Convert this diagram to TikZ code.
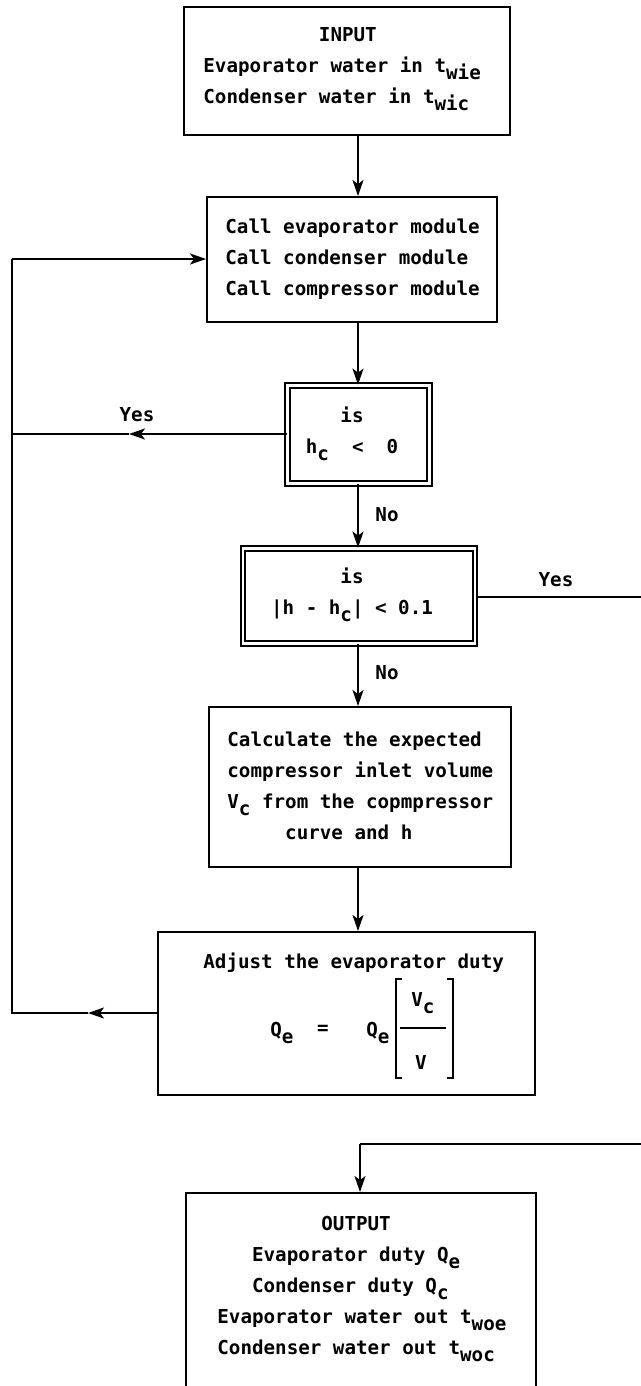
\documentclass[tikz,border=0pt]{standalone}
\usepackage{fontspec}
\setmonofont{DejaVu Sans Mono}
\usetikzlibrary{arrows.meta}
\newcommand\dn[1]{\raisebox{-3.5pt}{#1}}
\begin{document}
\begin{tikzpicture}[x=0.5pt,y=-0.5pt,
  every node/.style={font=\ttfamily\bfseries\fontsize{9.6}{15.5}\selectfont, inner sep=0pt},
  box/.style={draw, line width=1pt},
  dbox/.style={draw, line width=0.9pt, double, double distance=1.3pt},
  txt/.style={align=left, anchor=west},
  ctxt/.style={align=center},
  conn/.style={line width=1pt},
  arr/.style={conn, -{Stealth[length=8pt,width=5.5pt,inset=2pt]}},
  lbl/.style={}
]
\useasboundingbox (0,0) rectangle (641,1386);
\clip (0,0) rectangle (641,1386);
\fill[white] (0,0) rectangle (641,1386);

% boxes
\node[box, minimum width=163pt, minimum height=64pt] (input) at (347,71) {};
\node[txt] (inputt) at (203,69) {\phantom{xxxxxxxxxx}INPUT\\Evaporator water in t\dn{wie}\\Condenser water in t\dn{wic}};

\node[box, minimum width=145pt, minimum height=62.5pt] (call) at (352,259.5) {};
\node[txt] (callt) at (225,259) {Call evaporator module\\Call condenser module\\Call compressor module};

\node[dbox, minimum width=71pt, minimum height=49pt] (isneg) at (358.5,434.5) {};
\node[ctxt] (isnegt) at (352,434) {is\\h\dn{c}\ \ <\ \ 0};

\node[dbox, minimum width=116pt, minimum height=47.5pt] (conv) at (359,596) {};
\node[ctxt] (convt) at (352,595) {is\\|h - h\dn{c}| < 0.1};

\node[box, minimum width=151pt, minimum height=80pt] (calc) at (360,787) {};
\node[txt] (calct) at (227,786) {Calculate the expected\\compressor inlet volume\\V\dn{c} from the copmpressor\\\phantom{xxxxx}curve and h};

\node[box, minimum width=188.5pt, minimum height=81.5pt] (adjust) at (346.5,1013.5) {};
\node[txt] (adjustt) at (203,963) {Adjust the evaporator duty};
\node[anchor=west] (qe1) at (270,1033) {Q\dn{e}};
\node (eq) at (323,1030) {=};
\node[anchor=west] (qe2) at (366,1033) {Q\dn{e}};
\node[anchor=west] (vc) at (411,1003) {V\dn{c}};
\node (vv) at (421,1062) {V};
\draw[conn] (402,979) -- (396,979) -- (396,1078) -- (402,1078);
\draw[conn] (447,979) -- (453,979) -- (453,1078) -- (447,1078);
\draw[conn] (400,1028) -- (446,1028);

\node[box, minimum width=175pt, minimum height=105pt] (output) at (361,1298) {};
\node[txt] (outputt) at (217,1289) {\fontsize{9.6}{16}\selectfont\phantom{xxxxxxxxx}OUTPUT\\\phantom{xxx}Evaporator duty Q\dn{e}\\\phantom{xxx}Condenser duty Q\dn{c}\\Evaporator water out t\dn{woe}\\Condenser water out t\dn{woc}};

% connector coordinates
\coordinate (sx) at (358,0);
\coordinate (L1) at (12,259);
\coordinate (L2) at (12,434);
\coordinate (L3) at (12,1013);
\coordinate (m1) at (129,434);
\coordinate (m2) at (88,1013);
\coordinate (R1) at (648,597);
\coordinate (R2) at (648,1144);
\coordinate (R3) at (360,1144);

% spine
\draw[arr] (input.south -| sx) -- (call.north -| sx);
\draw[arr] (call.south -| sx) -- (isneg.north -| sx);
\draw[arr] (isneg.south -| sx) -- (conv.north -| sx);
\draw[arr] (conv.south -| sx) -- (calc.north -| sx);
\draw[arr] (calc.south -| sx) -- (adjust.north -| sx);

% left loop
\draw[arr] (isneg.west |- L2) -- (m1);
\draw[conn] (m1) -- (L2);
\draw[arr] (adjust.west |- L3) -- (m2);
\draw[conn] (m2) -- (L3) -- (L1);
\draw[arr] (L1) -- (call.west |- L1);

% right branch
\draw[conn] (conv.east |- R1) -- (R1) -- (R2) -- (R3);
\draw[arr] (R3) -- (output.north -| R3);

% labels
\node (yes1) at (137,415) {Yes};
\node (no1) at (387,515) {No};
\node (yes2) at (556,580) {Yes};
\node (no2) at (387,673) {No};
\end{tikzpicture}
\end{document}
